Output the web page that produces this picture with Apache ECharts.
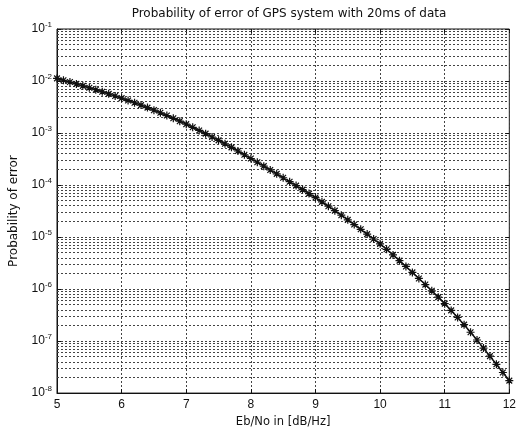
<!DOCTYPE html>
<html>
<head>
<meta charset="utf-8">
<script src="https://cdn.jsdelivr.net/npm/echarts@6/dist/echarts.min.js"></script>
<style>
html,body{margin:0;padding:0;background:#fff;}
#chart{width:519px;height:433px;}
</style>
</head>
<body>
<div id="chart"></div>
<script>
const chartTitle = 'Probability of error of GPS system with 20ms of data';
const xLabel = 'Eb/No in [dB/Hz]';
const yLabel = 'Probability of error';
const xTicks = [5, 6, 7, 8, 9, 10, 11, 12];
const yTickExponents = [-8, -7, -6, -5, -4, -3, -2, -1];
const minorMantissas = [2, 3, 4, 5, 6, 7, 8, 9];

const ebno = [
  5.0, 5.1, 5.2, 5.3, 5.4, 5.5, 5.6, 5.7, 5.8, 5.9,
  6.0, 6.1, 6.2, 6.3, 6.4, 6.5, 6.6, 6.7, 6.8, 6.9,
  7.0, 7.1, 7.2, 7.3, 7.4, 7.5, 7.6, 7.7, 7.8, 7.9,
  8.0, 8.1, 8.2, 8.3, 8.4, 8.5, 8.6, 8.7, 8.8, 8.9,
  9.0, 9.1, 9.2, 9.3, 9.4, 9.5, 9.6, 9.7, 9.8, 9.9,
  10.0, 10.1, 10.2, 10.3, 10.4, 10.5, 10.6, 10.7, 10.8, 10.9,
  11.0, 11.1, 11.2, 11.3, 11.4, 11.5, 11.6, 11.7, 11.8, 11.9,
  12.0
];
const pe = [
  1.122e-2, 1.035e-2, 9.55e-3, 8.79e-3, 8.07e-3, 7.41e-3, 6.79e-3, 6.21e-3, 5.66e-3, 5.15e-3,
  4.68e-3, 4.23e-3, 3.82e-3, 3.44e-3, 3.08e-3, 2.75e-3, 2.45e-3, 2.17e-3, 1.92e-3, 1.69e-3,
  1.48e-3, 1.29e-3, 1.12e-3, 9.73e-4, 8.39e-4, 7.24e-4, 6.21e-4, 5.30e-4, 4.51e-4, 3.82e-4,
  3.24e-4, 2.74e-4, 2.31e-4, 1.95e-4, 1.64e-4, 1.38e-4, 1.16e-4, 9.75e-5, 8.18e-5, 6.85e-5,
  5.75e-5, 4.75e-5, 3.92e-5, 3.22e-5, 2.63e-5, 2.14e-5, 1.74e-5, 1.41e-5, 1.14e-5, 9.18e-6,
  7.41e-6, 5.82e-6, 4.54e-6, 3.52e-6, 2.72e-6, 2.09e-6, 1.60e-6, 1.22e-6, 9.27e-7, 7.00e-7,
  5.25e-7, 3.89e-7, 2.85e-7, 2.07e-7, 1.48e-7, 1.05e-7, 7.33e-8, 5.13e-8, 3.58e-8, 2.49e-8,
  1.74e-8
];

const FONT = '"Liberation Sans", Arial, sans-serif';
const WIDE_FONT = '"DejaVu Sans", "Liberation Sans", sans-serif';
const GRID_COLOR = '#444';
const DOT = [2, 2];

const minorLines = [];
yTickExponents.slice(0, -1).forEach(function (e) {
  minorMantissas.forEach(function (m) {
    minorLines.push({ yAxis: m * Math.pow(10, e) });
  });
});

const chart = echarts.init(document.getElementById('chart'), null, { renderer: 'canvas' });
chart.setOption({
  animation: false,
  backgroundColor: '#fff',
  title: {
    text: chartTitle,
    left: 284,
    textAlign: 'center',
    top: 3,
    textStyle: { fontFamily: WIDE_FONT, fontSize: 12, fontWeight: 'normal', color: '#111' }
  },
  grid: {
    left: 57, right: 7, top: 29, bottom: 38,
    show: true, borderColor: '#111', borderWidth: 1, backgroundColor: 'transparent'
  },
  xAxis: [{
    type: 'value', min: 5, max: 12, interval: 1,
    name: xLabel, nameLocation: 'middle', nameGap: 21,
    nameTextStyle: { fontFamily: WIDE_FONT, fontSize: 11.5, color: '#111' },
    axisLine: { show: true, lineStyle: { color: '#111', width: 1 } },
    axisTick: { show: true, inside: true, length: 4, lineStyle: { color: '#111' } },
    axisLabel: {
      fontFamily: FONT, fontSize: 12, color: '#111', margin: 6,
      formatter: function (v) { return xTicks.indexOf(v) >= 0 ? String(v) : ''; }
    },
    splitLine: { show: true, lineStyle: { color: GRID_COLOR, type: DOT, width: 1 } }
  }, {
    type: 'value', min: 5, max: 12, interval: 1, position: 'top',
    axisLine: { show: false }, axisLabel: { show: false }, splitLine: { show: false },
    axisTick: { show: true, inside: true, length: 4, lineStyle: { color: '#111' } }
  }],
  yAxis: [{
    type: 'log', logBase: 10, min: 1e-8, max: 1e-1, interval: 1,
    name: yLabel, nameLocation: 'middle', nameGap: 37,
    nameTextStyle: { fontFamily: WIDE_FONT, fontSize: 12, color: '#111' },
    axisLine: { show: true, lineStyle: { color: '#111', width: 1 } },
    axisTick: { show: true, inside: true, length: 4, lineStyle: { color: '#111' } },
    axisLabel: {
      fontFamily: FONT, color: '#111', margin: 5,
      formatter: function (v) {
        const e = Math.round(Math.log10(v));
        return yTickExponents.indexOf(e) >= 0 ? '{b|10}{s|' + e + '}' : '';
      },
      rich: {
        b: { fontFamily: FONT, fontSize: 12, color: '#111' },
        s: { fontFamily: FONT, fontSize: 8, color: '#111', padding: [0, 0, 9, 0] }
      }
    },
    splitLine: { show: true, lineStyle: { color: GRID_COLOR, type: DOT, width: 1 } }
  }, {
    type: 'log', logBase: 10, min: 1e-8, max: 1e-1, interval: 1, position: 'right',
    axisLine: { show: false }, axisLabel: { show: false }, splitLine: { show: false },
    axisTick: { show: true, inside: true, length: 4, lineStyle: { color: '#111' } }
  }],
  series: [{
    type: 'line',
    data: ebno.map(function (x, i) { return [x, pe[i]]; }),
    showSymbol: true,
    symbol: 'path://M0,-5L0,5M-5,0L5,0M-3.6,-3.6L3.6,3.6M-3.6,3.6L3.6,-3.6',
    symbolSize: 8,
    itemStyle: { color: 'rgba(0,0,0,0)', borderColor: '#111', borderWidth: 1.2 },
    lineStyle: { color: '#111', width: 1.5 },
    z: 5,
    markLine: {
      silent: true,
      precision: 12,
      symbol: ['none', 'none'],
      label: { show: false },
      animation: false,
      lineStyle: { color: GRID_COLOR, type: DOT, width: 1 },
      emphasis: { disabled: true },
      data: minorLines
    }
  }]
});
</script>
</body>
</html>
